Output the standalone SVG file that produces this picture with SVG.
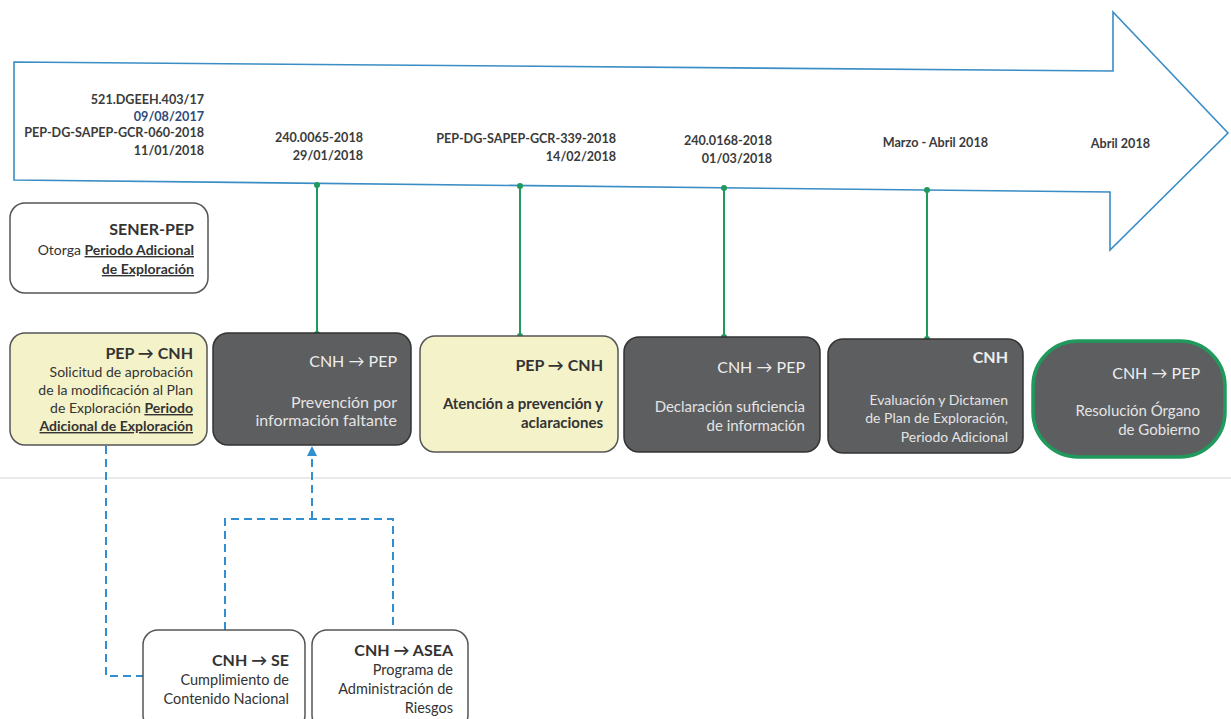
<svg xmlns="http://www.w3.org/2000/svg" width="1231" height="719" viewBox="0 0 1231 719">
<style>
text{font-family:Lato,"Open Sans","Liberation Sans",sans-serif;}
.d{font-size:12.6px;font-weight:bold;fill:#3b3b3b;text-anchor:end;}
.t{font-size:14px;fill:#333;text-anchor:end;}
.s{font-size:14.5px;}
.h{font-size:16px;font-weight:bold;fill:#333;text-anchor:end;}
.w{font-size:15px;fill:#e4e4e4;text-anchor:end;}
.wh{font-size:16px;fill:#eeeeee;text-anchor:end;}
.b{font-weight:bold;}
.u{font-weight:bold;text-decoration:underline;}
.yel{fill:#f4f2c9;stroke:#555;stroke-width:1.5;}
.drk{fill:#5d5e60;stroke:#333;stroke-width:1.5;}
.wht{fill:#fff;stroke:#555;stroke-width:1.5;}
.g{stroke:#1f9a5c;stroke-width:2;fill:none;}
.gd{fill:#1f9a5c;}
.bl{stroke:#2f8fd0;stroke-width:2;fill:none;stroke-dasharray:8 5;}
</style>
<rect width="1231" height="719" fill="#fff"/>
<line x1="0" y1="478" x2="1231" y2="478" stroke="#e9e9e9" stroke-width="2"/>
<g id="timeline">
<polygon points="14,62 1113,71 1113,12 1228,133 1110,250 1110,192 14,180" fill="#fff" stroke="#3a8dc5" stroke-width="1.6"/>
<text class="d" x="204" y="104">521.DGEEH.403/17</text>
<text class="d" x="204" y="121" style="fill:#2e4c7c">09/08/2017</text>
<text class="d" x="204" y="137">PEP-DG-SAPEP-GCR-060-2018</text>
<text class="d" x="204" y="155">11/01/2018</text>
<text class="d" x="363" y="142">240.0065-2018</text>
<text class="d" x="363" y="160">29/01/2018</text>
<text class="d" x="616" y="143">PEP-DG-SAPEP-GCR-339-2018</text>
<text class="d" x="616" y="161">14/02/2018</text>
<text class="d" x="772" y="145">240.0168-2018</text>
<text class="d" x="772" y="163">01/03/2018</text>
<text class="d" x="988" y="147">Marzo - Abril 2018</text>
<text class="d" x="1150" y="148">Abril 2018</text>
</g>
<g id="connectors">
<line class="g" x1="317" y1="185" x2="317" y2="334"/>
<line class="g" x1="520" y1="186" x2="520" y2="336"/>
<line class="g" x1="724" y1="188" x2="724" y2="337"/>
<line class="g" x1="927" y1="190" x2="927" y2="339"/>
<circle class="gd" cx="317" cy="185" r="3"/><circle class="gd" cx="317" cy="334" r="3"/>
<circle class="gd" cx="520" cy="186" r="3"/><circle class="gd" cx="520" cy="336" r="3"/>
<circle class="gd" cx="724" cy="188" r="3"/><circle class="gd" cx="724" cy="337" r="3"/>
<circle class="gd" cx="927" cy="190" r="3"/><circle class="gd" cx="927" cy="339" r="3"/>
<polyline class="bl" points="106,446 106,676 143,676"/>
<polyline class="bl" points="225,630 225,519 393,519 393,628"/>
<line class="bl" x1="312" y1="519" x2="312" y2="454"/>
<path d="M307,456 L312,446 L317,456 Z" fill="#2f8fd0"/>
</g>
<g id="sener">
<rect class="wht" x="10" y="203" width="198" height="90" rx="15"/>
<text class="h" x="194" y="235">SENER-PEP</text>
<text class="t" x="194" y="255">Otorga <tspan class="u">Periodo Adicional</tspan></text>
<text class="t" x="194" y="274"><tspan class="u">de Exploración</tspan></text>
</g>
<g id="n1">
<rect class="yel" x="10" y="333" width="197" height="112" rx="15"/>
<text class="h" x="193" y="359">PEP → CNH</text>
<text class="t" x="193" y="377">Solicitud de aprobación</text>
<text class="t" x="193" y="395">de la modificación al Plan</text>
<text class="t" x="193" y="413">de Exploración <tspan class="u">Periodo</tspan></text>
<text class="t" x="193" y="431"><tspan class="u">Adicional  de Exploración</tspan></text>
</g>
<g id="n2">
<rect class="drk" x="213" y="333" width="198" height="112" rx="15"/>
<text class="wh" x="397" y="367">CNH → PEP</text>
<text class="w" x="397" y="408" style="font-size:16px">Prevención por</text>
<text class="w" x="397" y="426" style="font-size:16px">información  faltante</text>
</g>
<g id="n3">
<rect class="yel" x="420" y="336" width="198" height="116" rx="15"/>
<text class="h" x="603" y="371">PEP → CNH</text>
<text class="t b" x="603" y="409" style="font-size:15px">Atención a prevención y</text>
<text class="t b" x="603" y="428" style="font-size:15px">aclaraciones</text>
</g>
<g id="n4">
<rect class="drk" x="624" y="337" width="196" height="115" rx="15"/>
<text class="wh" x="805" y="373">CNH → PEP</text>
<text class="w" x="805" y="412">Declaración suficiencia</text>
<text class="w" x="805" y="431">de información</text>
</g>
<g id="n5">
<rect class="drk" x="828" y="339" width="195" height="114" rx="15"/>
<text class="wh b" x="1008" y="363">CNH</text>
<text class="w" x="1008" y="405" style="font-size:14px">Evaluación y Dictamen</text>
<text class="w" x="1008" y="423" style="font-size:14px">de Plan de Exploración,</text>
<text class="w" x="1008" y="442" style="font-size:14px">Periodo Adicional</text>
</g>
<g id="n6">
<rect x="1033" y="341" width="192" height="116" rx="45" fill="#5d5e60" stroke="#1f9a5c" stroke-width="3.5"/>
<text class="wh" x="1200" y="379">CNH → PEP</text>
<text class="w" x="1200" y="416">Resolución Órgano</text>
<text class="w" x="1200" y="435">de Gobierno</text>
</g>
<g id="n7">
<rect class="wht" x="143" y="630" width="162" height="100" rx="15"/>
<text class="h" x="289" y="666">CNH → SE</text>
<text class="t s" x="289" y="685">Cumplimiento de</text>
<text class="t s" x="289" y="704">Contenido Nacional</text>
</g>
<g id="n8">
<rect class="wht" x="312" y="630" width="156" height="100" rx="15"/>
<text class="h" x="453" y="656">CNH → ASEA</text>
<text class="t s" x="453" y="675">Programa de</text>
<text class="t s" x="453" y="694">Administración de</text>
<text class="t s" x="453" y="713">Riesgos</text>
</g>
</svg>
